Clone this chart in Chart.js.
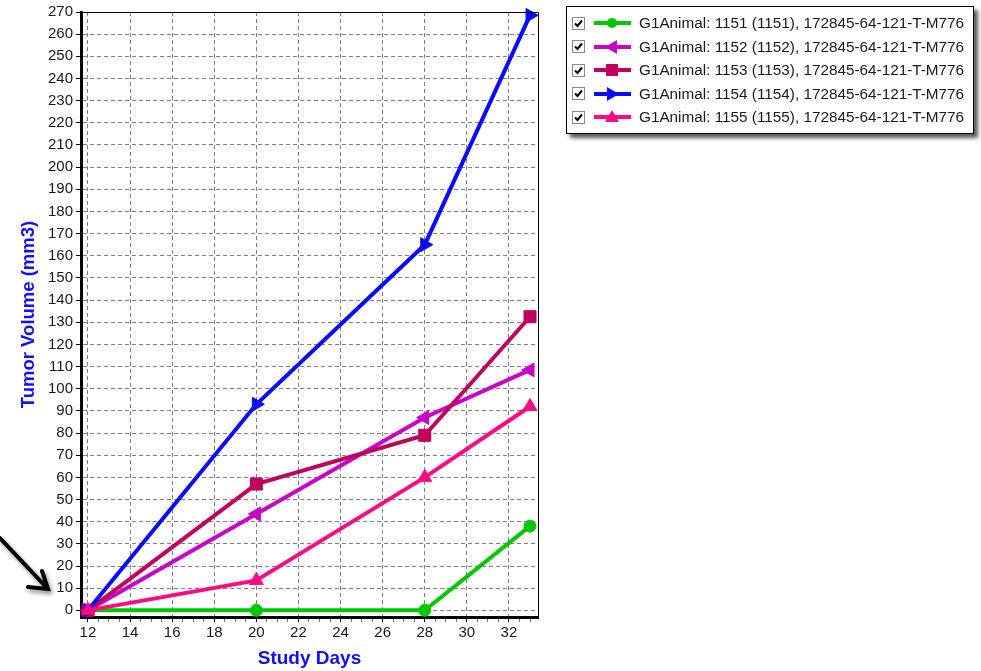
<!DOCTYPE html>
<html>
<head>
<meta charset="utf-8">
<script src="https://cdn.jsdelivr.net/npm/chart.js@4/dist/chart.umd.min.js"></script>
<style>
  body { margin: 0; background: #fff; }
  .wrap { position: relative; width: 981px; height: 671px; }
  .legend-box {
    position: absolute; left: 566px; top: 6px; width: 406px; height: 126px;
    border: 1px solid #000; background: #fff;
    box-shadow: 4px 4px 4px rgba(0, 0, 0, 0.65);
    font-family: "Liberation Sans", Arial, sans-serif; font-size: 15.3px; color: #1a1a1a;
  }
  .legend-row { position: absolute; left: 5px; height: 20px; display: flex; align-items: center; white-space: nowrap; }
  .legend-row svg { display: block; }
</style>
</head>
<body>
<div class="wrap">
  <canvas id="tumor-chart" width="981" height="671"></canvas>
  <div class="legend-box" id="legend"></div>
</div>
<script>
//~~~~~~~~~~~~~~~~~~~~~~~~~~~~~~~~~~~~~~~~~~~~~~~~~~~~~~~~~~~~~~~~~~~~~~~~~
// DATA
const studyDays = [12, 20, 28, 33];

const animal1151 = [0, 0, 0, 38];
const animal1152 = [0, 43.5, 87, 108.5];
const animal1153 = [0, 57, 79, 132.5];
const animal1154 = [0, 93, 165, 268.5];
const animal1155 = [0, 13.5, 60, 92];

const seriesLabels = [
  "G1Animal: 1151 (1151), 172845-64-121-T-M776",
  "G1Animal: 1152 (1152), 172845-64-121-T-M776",
  "G1Animal: 1153 (1153), 172845-64-121-T-M776",
  "G1Animal: 1154 (1154), 172845-64-121-T-M776",
  "G1Animal: 1155 (1155), 172845-64-121-T-M776",
];
const seriesColors = ["#00c800", "#c800c8", "#c0005c", "#0a0aff", "#ff0a82"];
const seriesMarkers = ["circle", "triangle", "rect", "triangle", "triangle"];
const seriesRotation = [0, 270, 0, 90, 0];
const seriesRadius = [6, 8, 8.5, 8, 8];

//~~~~~~~~~~~~~~~~~~~~~~~~~~~~~~~~~~~~~~~~~~~~~~~~~~~~~~~~~~~~~~~~~~~~~~~~~
const allValues = [animal1151, animal1152, animal1153, animal1154, animal1155];

const datasets = allValues.map((vals, i) => ({
  label: seriesLabels[i],
  data: vals.map((v, k) => ({ x: studyDays[k], y: v })),
  borderColor: seriesColors[i],
  backgroundColor: seriesColors[i],
  borderWidth: 4,
  pointStyle: seriesMarkers[i],
  pointRotation: seriesRotation[i],
  pointRadius: seriesRadius[i],
  pointBorderWidth: 1,
  order: allValues.length - i,
  clip: false,
}));

const isMult = (v, m) => Math.abs(v / m - Math.round(v / m)) < 1e-6;

// frame + arrow drawn on top of the plot
const framePlugin = {
  id: "frame",
  afterDraw(chart) {
    const { ctx, chartArea: a } = chart;
    ctx.save();
    ctx.strokeStyle = "#000";
    ctx.lineWidth = 1;
    ctx.beginPath();
    ctx.moveTo(a.left, a.top + 0.5);
    ctx.lineTo(a.right + 0.5, a.top + 0.5);
    ctx.lineTo(a.right + 0.5, a.bottom);
    ctx.stroke();

    // annotation arrow
    ctx.shadowColor = "rgba(0,0,0,0.45)";
    ctx.shadowBlur = 4;
    ctx.shadowOffsetX = 2;
    ctx.shadowOffsetY = 3;
    ctx.lineWidth = 4;
    ctx.lineCap = "round";
    ctx.beginPath();
    ctx.moveTo(0, 538);
    ctx.lineTo(48, 589);
    ctx.moveTo(42, 571);
    ctx.lineTo(48, 589);
    ctx.lineTo(28, 587);
    ctx.stroke();
    ctx.restore();
  },
};

let chartElement = document.getElementById("tumor-chart");
let config = {
  type: "line",
  data: { datasets: datasets },
  options: {
    responsive: false,
    animation: false,
    layout: { padding: { left: 10, right: 443, top: 11, bottom: 0 } },
    plugins: { legend: { display: false }, tooltip: { enabled: false } },
    scales: {
      x: {
        type: "linear",
        min: 11.67,
        max: 33.38,
        afterFit: (s) => { s.height = 54; },
        ticks: {
          stepSize: 0.5,
          includeBounds: false,
          autoSkip: false,
          maxRotation: 0,
          padding: 2,
          color: "#1a1a1a",
          font: { family: "Liberation Sans", size: 15 },
          callback: (v) => (isMult(v, 2) ? v : ""),
        },
        grid: {
          color: (c) => (c.tick && isMult(c.tick.value, 2) ? "#808080" : "rgba(0,0,0,0)"),
          tickColor: (c) => (c.tick && isMult(c.tick.value, 2) ? "#000" : "#777"),
          tickLength: 5,
          lineWidth: 1,
        },
        border: { color: "#000", width: 3, dash: [4, 3] },
        title: {
          display: true,
          text: "Study Days",
          color: "#1010ff",
          font: { family: "Liberation Sans", size: 19, weight: "bold" },
          padding: { top: 0, bottom: 1 },
        },
      },
      y: {
        type: "linear",
        min: -3,
        max: 270,
        afterFit: (s) => { s.width = 71; },
        ticks: {
          stepSize: 10,
          includeBounds: false,
          autoSkip: false,
          padding: 3,
          color: "#1a1a1a",
          font: { family: "Liberation Sans", size: 15 },
        },
        grid: {
          color: "#808080",
          tickColor: "#000",
          tickLength: 5,
          lineWidth: 1,
        },
        border: { color: "#000", width: 3, dash: [4, 3] },
        title: {
          display: true,
          text: "Tumor Volume (mm3)",
          color: "#1010ff",
          font: { family: "Liberation Sans", size: 18.5, weight: "bold" },
          padding: { top: 8, bottom: 0 },
        },
      },
    },
  },
  plugins: [framePlugin],
};
let tumorChart = new Chart(chartElement, config);

//~~~~~~~~~~~~~~~~~~~~~~~~~~~~~~~~~~~~~~~~~~~~~~~~~~~~~~~~~~~~~~~~~~~~~~~~~
// LEGEND (html, built from the same arrays)
const markerSvg = (i) => {
  const c = seriesColors[i];
  let m = "";
  if (seriesMarkers[i] === "circle") {
    m = `<circle cx="18" cy="8" r="5" fill="${c}"/>`;
  } else if (seriesMarkers[i] === "rect") {
    m = `<rect x="12" y="2" width="12" height="12" fill="${c}"/>`;
  } else {
    m = `<polygon points="18,1 25,13 11,13" fill="${c}" transform="rotate(${seriesRotation[i]} 18 8)"/>`;
  }
  return `<svg width="37" height="16"><line x1="0" y1="8" x2="37" y2="8" stroke="${c}" stroke-width="4" stroke-linecap="round"/>${m}</svg>`;
};
const checkSvg =
  `<svg width="13" height="13"><rect x="0.5" y="0.5" width="12" height="12" fill="#fff" stroke="#8a8a8a"/>` +
  `<path d="M3 6.5 L5.5 9 L10 3.5" fill="none" stroke="#000" stroke-width="2"/></svg>`;

const legendEl = document.getElementById("legend");
seriesLabels.forEach((label, i) => {
  const row = document.createElement("div");
  row.className = "legend-row";
  row.style.top = 6 + i * 23.6 + "px";
  row.innerHTML =
    checkSvg + '<span style="width:9px"></span>' + markerSvg(i) +
    '<span style="width:8px"></span><span>' + label + "</span>";
  legendEl.appendChild(row);
});
</script>
</body>
</html>
